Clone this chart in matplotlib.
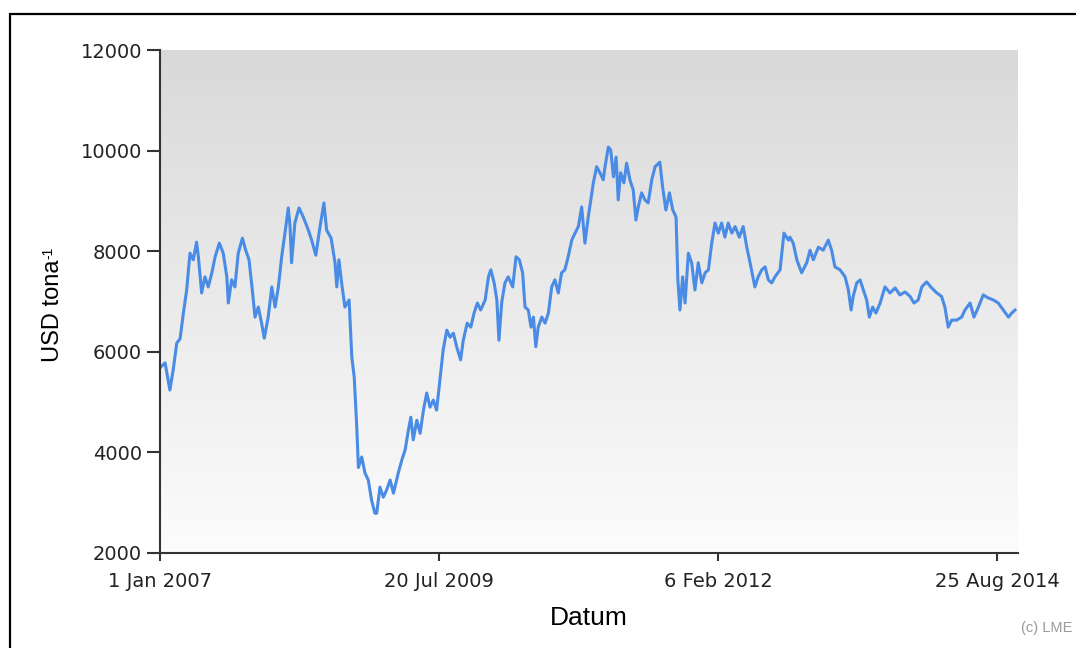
import numpy as np
import pandas as pd
import matplotlib
matplotlib.use("Agg")
import matplotlib.pyplot as plt
from matplotlib.patches import Rectangle
from matplotlib.colors import LinearSegmentedColormap

# ---- data (days since 1 Jan 2007, USD per tonne) ----
days = [3, 17, 33, 44, 56, 67, 78, 89, 100, 111, 122, 128, 139, 150, 161, 173, 184, 198, 211, 223,
        228, 239, 250, 261, 275, 286, 297, 308, 317, 328, 339, 348, 361, 373, 384, 395, 406, 417, 428, 434,
        439, 450, 464, 478, 495, 506, 520, 534, 547, 556, 571, 584, 590, 597, 606, 617, 631, 640, 648, 656,
        662, 673, 684, 695, 706, 717, 723, 734, 745, 756, 768, 779, 795, 807, 818, 829, 837, 845, 857, 868,
        879, 890, 901, 912, 923, 934, 945, 957, 968, 979, 990, 1003, 1012, 1025, 1037, 1048, 1059, 1070, 1085, 1096,
        1104, 1115, 1124, 1131, 1140, 1151, 1162, 1177, 1188, 1199, 1210, 1218, 1229, 1238, 1246, 1254, 1262, 1274, 1285, 1296,
        1307, 1318, 1329, 1340, 1351, 1362, 1374, 1385, 1396, 1407, 1418, 1429, 1446, 1457, 1468, 1479, 1485, 1496, 1504, 1513,
        1522, 1529, 1537, 1548, 1557, 1568, 1579, 1588, 1596, 1607, 1618, 1629, 1641, 1652, 1668, 1677, 1688, 1700, 1711, 1722,
        1728, 1735, 1744, 1752, 1763, 1774, 1785, 1796, 1808, 1819, 1830, 1841, 1852, 1863, 1874, 1885, 1896, 1908, 1919, 1933,
        1946, 1958, 1969, 1985, 1996, 2008, 2019, 2030, 2041, 2052, 2069, 2082, 2097, 2102, 2113, 2125, 2141, 2158, 2169, 2180,
        2197, 2213, 2230, 2241, 2252, 2269, 2286, 2297, 2306, 2313, 2325, 2336, 2347, 2358, 2367, 2378, 2389, 2403, 2419, 2436,
        2453, 2469, 2486, 2503, 2516, 2530, 2542, 2558, 2575, 2592, 2608, 2619, 2630, 2642, 2658, 2675, 2686, 2703, 2716, 2731,
        2747, 2764, 2781, 2797, 2814, 2831, 2842, 2853]
prices = [5700, 5780, 5240, 5640, 6175, 6260, 6770, 7230, 7960, 7830, 8180, 7890, 7170, 7490, 7290, 7570, 7890, 8160, 7960, 7490,
          6970, 7430, 7290, 7960, 8260, 8020, 7830, 7230, 6690, 6890, 6570, 6270, 6690, 7290, 6890, 7290, 7890, 8360, 8860, 8490,
          7770, 8560, 8860, 8680, 8420, 8220, 7920, 8490, 8960, 8420, 8260, 7770, 7290, 7830, 7370, 6890, 7030, 5900, 5500, 4580,
          3700, 3910, 3590, 3450, 3050, 2790, 2790, 3310, 3110, 3250, 3450, 3190, 3590, 3850, 4050, 4450, 4700, 4250, 4640, 4380,
          4840, 5180, 4900, 5040, 4840, 5440, 6040, 6430, 6290, 6370, 6100, 5840, 6230, 6570, 6490, 6770, 6970, 6830, 7030, 7490,
          7630, 7370, 7030, 6230, 6970, 7370, 7490, 7290, 7890, 7830, 7570, 6890, 6830, 6490, 6690, 6100, 6490, 6690, 6570, 6770,
          7290, 7430, 7170, 7570, 7630, 7890, 8220, 8360, 8490, 8880, 8160, 8680, 9360, 9680, 9560, 9420, 9680, 10070, 10010, 9480,
          9870, 9020, 9560, 9360, 9750, 9420, 9220, 8620, 8880, 9160, 9020, 8960, 9420, 9680, 9770, 9280, 8820, 9160, 8820, 8680,
          7430, 6830, 7490, 6970, 7960, 7770, 7230, 7770, 7370, 7570, 7630, 8160, 8560, 8360, 8560, 8280, 8560, 8360, 8490, 8280,
          8490, 8080, 7770, 7290, 7490, 7630, 7690, 7430, 7370, 7490, 7630, 8360, 8220, 8280, 8160, 7830, 7570, 7770, 8020, 7830,
          8080, 8020, 8220, 8020, 7690, 7630, 7490, 7230, 6830, 7100, 7370, 7430, 7230, 7030, 6690, 6890, 6770, 6970, 7290, 7170,
          7270, 7130, 7190, 7100, 6970, 7030, 7290, 7390, 7270, 7170, 7100, 6890, 6490, 6630, 6630, 6690, 6830, 6970, 6690, 6890,
          7130, 7070, 7030, 6970, 6830, 6690, 6770, 6830]
start_date = "2007-01-01"
end_date = "2014-11-03"
tick_dates = ["2007-01-01", "2009-07-20", "2012-02-06", "2014-08-25"]
tick_labels = ["1 Jan 2007", "20 Jul 2009", "6 Feb 2012", "25 Aug 2014"]
y_ticks = [2000, 4000, 6000, 8000, 10000, 12000]

dates = pd.Timestamp(start_date) + pd.to_timedelta(days, unit="D")

W, H = 1076, 648
fig = plt.figure(figsize=(W / 100, H / 100), dpi=100)
fig.patch.set_facecolor("white")

# outer frame (left and top visible)
fig.add_artist(Rectangle((10 / W, -0.1), 1.2, (H - 14) / H + 0.1, transform=fig.transFigure,
                         fill=False, edgecolor="black", linewidth=1.6))

ax = fig.add_axes([160 / W, 95 / H, 858 / W, 503 / H])
ax.set_facecolor("none")

# gradient background
grad = np.linspace(0, 1, 256).reshape(-1, 1)
cmap = LinearSegmentedColormap.from_list("bg", ["#fcfcfc", "#d9d9d9"])
ax.imshow(grad, extent=[0, 1, 0, 1], transform=ax.transAxes, origin="lower",
          cmap=cmap, aspect="auto", zorder=0)

ax.plot(dates, prices, color="#4a8be6", linewidth=2.2, zorder=3, solid_joinstyle="round")

ax.set_xlim(pd.Timestamp(start_date), pd.Timestamp(end_date))
ax.set_ylim(2000, 12000)
ax.set_xticks([pd.Timestamp(d) for d in tick_dates])
ax.set_xticklabels(tick_labels)
ax.set_yticks(y_ticks)
ax.set_yticklabels([str(v) for v in y_ticks])

for s in ["top", "right"]:
    ax.spines[s].set_visible(False)
for s in ["left", "bottom"]:
    ax.spines[s].set_color("#333333")
    ax.spines[s].set_linewidth(1.5)
    ax.spines[s].set_zorder(4)

ax.tick_params(axis="y", length=9.5, width=1.5, color="#333333", pad=3.5,
               labelsize=14, labelcolor="#222222")
ax.tick_params(axis="x", length=5.5, width=1.5, color="#333333", pad=8,
               labelsize=14, labelcolor="#222222")

ax.set_xlabel("Datum", fontsize=19, family="Liberation Sans", color="black", labelpad=11)

# y label with small superscript
ylab = fig.text(53 / W, 1 - 362 / H, "USD tona", rotation=90, fontsize=17,
                family="Liberation Sans", color="black", ha="center", va="bottom")
fig.canvas.draw()
bb = ylab.get_window_extent(renderer=fig.canvas.get_renderer())
fig.text((bb.x0 - 1) / W, (bb.y1 + 1) / H, "-1", rotation=90, fontsize=10,
         family="Liberation Sans", color="black", ha="left", va="bottom")

fig.text(1021 / W, 1 - 628 / H, "(c) LME", fontsize=10.5, color="#999999",
         family="Liberation Sans", va="center", ha="left")

fig.savefig("out.png", dpi=100)
